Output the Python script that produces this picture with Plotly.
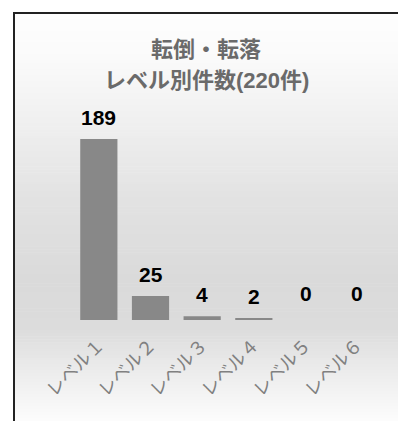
import plotly.graph_objects as go

# Incident counts by severity level
levels = ["レベル１", "レベル２", "レベル３", "レベル４", "レベル５", "レベル６"]
counts = [189, 25, 4, 2, 0, 0]
title_lines = ["転倒・転落", "レベル別件数(220件)"]

W, H = 398, 421
ML, MR, MT, MB = 73, 15, 100, 101
PW, PH = W - ML - MR, H - MT - MB


def px_x(x):
    return (x - ML) / PW


def px_y(y):
    return (H - MB - y) / PH


fig = go.Figure()
fig.add_trace(go.Bar(
    x=levels, y=counts,
    marker=dict(color="#888888", line=dict(width=0)),
    hoverinfo="skip",
))

# value labels above each bar
for lv, c in zip(levels, counts):
    fig.add_annotation(
        x=lv, y=c, text=str(c), showarrow=False,
        yanchor="bottom", yshift=8 if c > 0 else 13,
        font=dict(family="Liberation Sans, Arial, sans-serif", size=21, color="#000000", weight="bold"),
    )

# two-line heading
for line, yc in zip(title_lines, [50, 80]):
    fig.add_annotation(
        xref="paper", yref="paper", x=px_x(206), y=px_y(yc),
        xanchor="center", yanchor="middle", showarrow=False, text=line,
        font=dict(family="Liberation Sans, Noto Sans CJK JP, sans-serif", size=22,
                  color="#6a6a6a", weight="bold"),
    )

# vertical background gradient inside the framed area
stops = [(13, 254), (60, 250), (120, 240), (200, 226), (280, 218), (330, 220), (370, 236), (421, 252)]
shapes = []
for (y0, g0), (y1, g1) in zip(stops[:-1], stops[1:]):
    n = max(1, int((y1 - y0) / 3))
    for i in range(n):
        a = y0 + (y1 - y0) * i / n
        b = y0 + (y1 - y0) * (i + 1) / n
        g = round(g0 + (g1 - g0) * (i + 0.5) / n)
        shapes.append(dict(
            type="rect", xref="paper", yref="paper", layer="below",
            x0=px_x(14), x1=px_x(W + 5), y0=px_y(b + 0.5), y1=px_y(a),
            fillcolor=f"rgb({g},{g},{g})", line=dict(width=0),
        ))
# frame lines
shapes.append(dict(type="line", xref="paper", yref="paper",
                   x0=px_x(14), x1=px_x(14), y0=px_y(13), y1=px_y(H + 5),
                   line=dict(color="#222222", width=2)))
shapes.append(dict(type="line", xref="paper", yref="paper",
                   x0=px_x(13), x1=px_x(W + 5), y0=px_y(13), y1=px_y(13),
                   line=dict(color="#222222", width=2)))

fig.update_layout(
    width=W, height=H,
    margin=dict(l=ML, r=MR, t=MT, b=MB),
    paper_bgcolor="#ffffff", plot_bgcolor="rgba(0,0,0,0)",
    showlegend=False,
    bargap=0.28,
    shapes=shapes,
    xaxis=dict(
        tickangle=-45, showgrid=False, zeroline=False, showline=False, ticks="",
        tickfont=dict(family="Noto Sans CJK JP, sans-serif", size=18, color="#808080"),
        ticklabelstandoff=10,
    ),
    yaxis=dict(range=[0, 229.7], visible=False, showgrid=False, zeroline=False),
)

fig.write_html("out.html")
